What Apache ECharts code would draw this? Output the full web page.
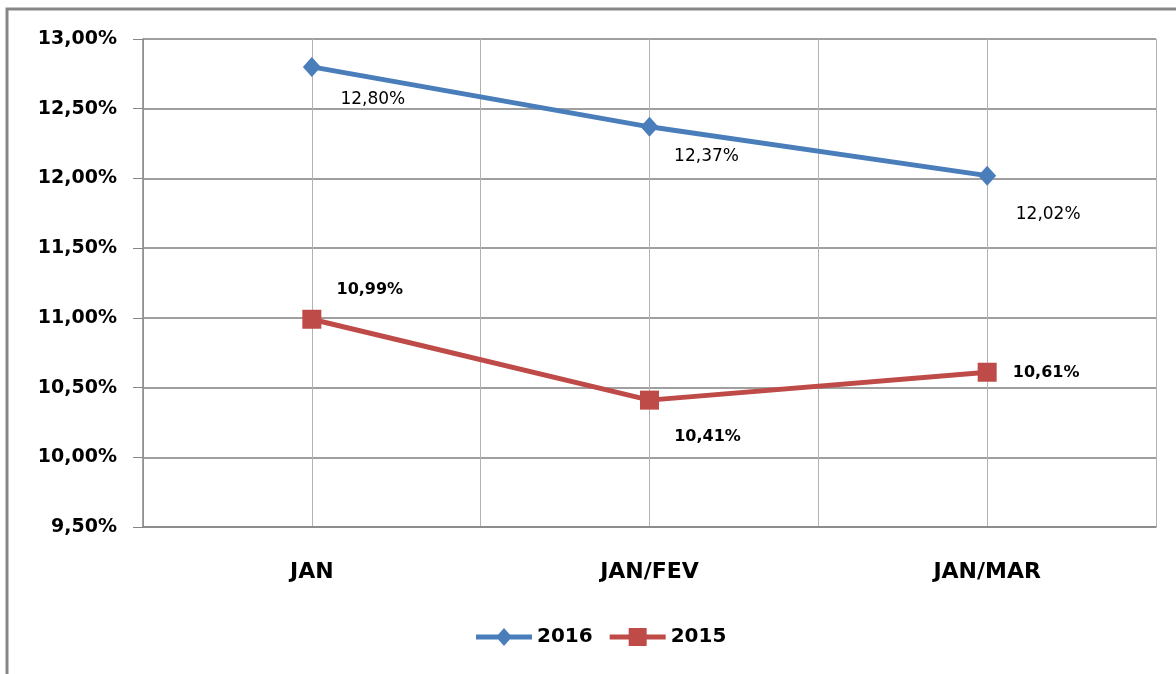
<!DOCTYPE html>
<html>
<head>
<meta charset="utf-8">
<script src="https://cdn.jsdelivr.net/npm/echarts@6/dist/echarts.min.js"></script>
<style>
  html, body { margin: 0; padding: 0; background: #fff; }
  #chart { width: 1176px; height: 674px; }
</style>
</head>
<body>
<div id="chart"></div>
<script>
var categories = ['JAN', 'JAN/FEV', 'JAN/MAR'];
var values2016 = [12.80, 12.37, 12.02];
var values2015 = [10.99, 10.41, 10.61];
// label offsets for each point (px)
var offsets2016 = [[61, 33], [57, 30], [61, 39]];
var offsets2015 = [[58, -29], [58, 37], [59, 1]];

var FONT = '"DejaVu Sans", sans-serif';

function pct(v) {
    return v.toFixed(2).replace('.', ',') + '%';
}

function withLabels(vals, offs, bold) {
    return vals.map(function (v, i) {
        return {
            value: v,
            label: {
                show: true,
                position: 'inside',
                offset: offs[i],
                formatter: function (p) { return pct(p.value); },
                color: '#000',
                fontSize: bold ? 16 : 17,
                fontWeight: bold ? 'bold' : 'normal',
                fontFamily: FONT
            }
        };
    });
}

// legend icons: line with marker in the middle (56 x 18 box)
var iconDiamond = 'path://M0,6.5H56V11.5H0Z M28,0L36,9L28,18L20,9Z';
var iconSquare = 'path://M0,6.5H56V11.5H0Z M19,0H37V18H19Z';

var myChart = echarts.init(document.getElementById('chart'));
var option = {
    animation: false,
    color: ['#4a7ebb', '#be4b48'],
    graphic: [{
        type: 'rect',
        shape: { x: 7, y: 9, width: 1200, height: 700 },
        style: { fill: 'none', stroke: '#878787', lineWidth: 3 }
    }],
    legend: {
        bottom: 22,
        left: 471,
        itemWidth: 56,
        itemHeight: 18,
        itemGap: 17,
        textStyle: { fontSize: 20, fontWeight: 'bold', color: '#000', fontFamily: FONT },
        data: [{ name: '2016', icon: iconDiamond }, { name: '2015', icon: iconSquare }]
    },
    grid: { left: 143, right: 20, top: 39, bottom: 147 },
    xAxis: [{
        type: 'category',
        data: categories,
        boundaryGap: true,
        axisLine: { lineStyle: { color: '#868686', width: 1.5 } },
        axisTick: { length: 9, lineStyle: { color: '#868686' } },
        axisLabel: { margin: 34, fontSize: 22, fontWeight: 'bold', color: '#000', fontFamily: FONT },
        splitLine: { show: false }
    }, {
        type: 'category',
        position: 'bottom',
        data: ['', '', '', '', '', ''],
        boundaryGap: true,
        axisLine: { show: false },
        axisTick: { show: false },
        axisLabel: { show: false },
        splitLine: { show: true, lineStyle: { color: '#b3b3b3', width: 1 } }
    }],
    yAxis: {
        type: 'value',
        min: 9.5,
        max: 13,
        interval: 0.5,
        axisLine: { show: true, lineStyle: { color: '#868686', width: 1.5 } },
        axisTick: { show: true, length: 10, lineStyle: { color: '#868686' } },
        axisLabel: {
            margin: 26,
            fontSize: 19,
            fontWeight: 'bold',
            color: '#000',
            fontFamily: FONT,
            formatter: pct
        },
        splitLine: { lineStyle: { color: '#7f7f7f', width: 1.5 } }
    },
    series: [{
        name: '2016',
        type: 'line',
        data: withLabels(values2016, offsets2016, false),
        symbol: 'diamond',
        symbolSize: [18, 20],
        lineStyle: { width: 5 }
    }, {
        name: '2015',
        type: 'line',
        data: withLabels(values2015, offsets2015, true),
        symbol: 'rect',
        symbolSize: 19,
        lineStyle: { width: 5 }
    }]
};
myChart.setOption(option);
</script>
</body>
</html>
